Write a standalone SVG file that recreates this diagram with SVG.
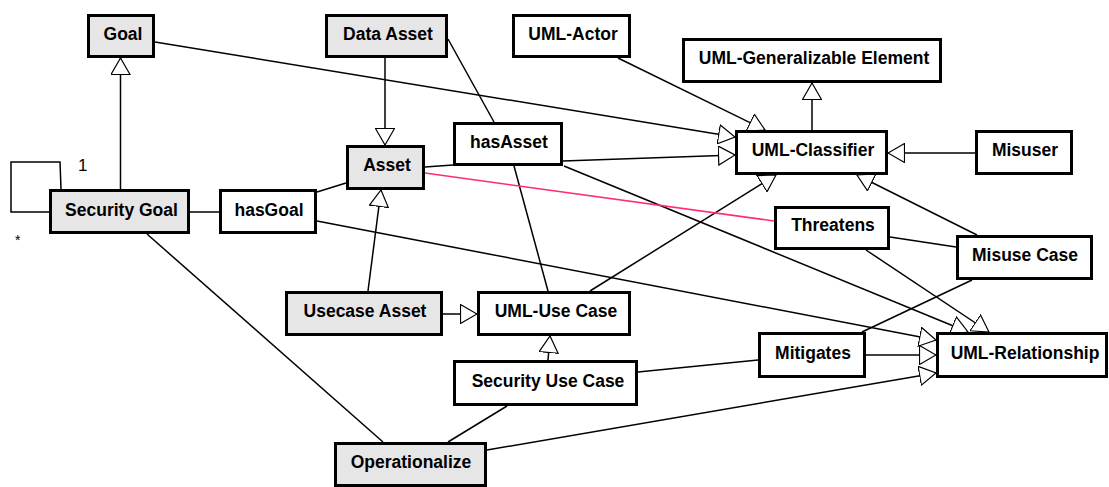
<svg xmlns="http://www.w3.org/2000/svg" width="1109" height="487" viewBox="0 0 1109 487">
<style>
.box{stroke:#000;stroke-width:3}
.g{fill:#e6e6e6}
.w{fill:#fff}
.t{font-family:"Liberation Sans",Arial,sans-serif;font-weight:bold;font-size:17.5px;text-anchor:middle;fill:#000}
.c line,.c polyline{stroke:#000;stroke-width:1.5;fill:none}
.gen{marker-end:url(#tri)}
.lbl{font-family:"Liberation Sans",Arial,sans-serif;fill:#000}
</style>
<defs>
<marker id="tri" viewBox="0 0 18 20" refX="17" refY="10" markerWidth="18" markerHeight="20" markerUnits="userSpaceOnUse" orient="auto">
<path d="M0.5,0.5 L17,10 L0.5,19.5 Z" fill="#fff" stroke="#000" stroke-width="1.2"/>
</marker>
</defs>
<rect width="1109" height="487" fill="#fff"/>
<g class="c" id="connectors">
<line class="gen" x1="120.5" y1="189" x2="120.5" y2="58"/>
<line class="gen" x1="385" y1="58" x2="385" y2="145"/>
<line class="gen" x1="368" y1="291" x2="381" y2="190"/>
<line class="gen" x1="155" y1="42" x2="735" y2="137"/>
<line class="gen" x1="618" y1="58" x2="765" y2="130"/>
<line class="gen" x1="563" y1="161" x2="735" y2="155"/>
<line class="gen" x1="812" y1="130" x2="812" y2="83"/>
<line class="gen" x1="975" y1="153" x2="888" y2="153"/>
<line class="gen" x1="590" y1="291" x2="776" y2="175"/>
<line class="gen" x1="977" y1="235" x2="857" y2="175"/>
<line class="gen" x1="443" y1="314" x2="477" y2="314"/>
<line class="gen" x1="548" y1="360" x2="550" y2="336"/>
<line class="gen" x1="564" y1="166" x2="968" y2="332"/>
<line class="gen" x1="866" y1="250" x2="989" y2="332"/>
<line class="gen" x1="317" y1="221" x2="936" y2="340"/>
<line class="gen" x1="866" y1="355" x2="936" y2="355"/>
<line class="gen" x1="487" y1="450" x2="936" y2="373"/>
<polyline points="49,212 11,212 11,162 60,162 61,189"/>
<line x1="190" y1="212" x2="219" y2="212"/>
<line x1="317" y1="192" x2="346" y2="183"/>
<line x1="425" y1="167" x2="453" y2="165"/>
<line x1="448" y1="39" x2="494" y2="122"/>
<line x1="514" y1="166" x2="548" y2="291"/>
<line x1="425" y1="173" x2="774" y2="221" style="stroke:#ff2d6a"/>
<line x1="890" y1="237" x2="956" y2="247"/>
<line x1="972" y1="280" x2="862" y2="332"/>
<line x1="638" y1="372" x2="758" y2="360"/>
<line x1="147" y1="234" x2="383" y2="442"/>
<line x1="507" y1="406" x2="448" y2="442"/>
<text class="lbl" x="78" y="171" font-size="17">1</text>
<text class="lbl" x="15" y="245" font-size="14">*</text>
</g>
<g id="goal"><rect class="box g" x="88.5" y="15.5" width="65" height="41"/><text class="t" x="123" y="40">Goal</text></g>
<g id="data-asset"><rect class="box g" x="326.5" y="15.5" width="120" height="41"/><text class="t" x="388" y="40">Data Asset</text></g>
<g id="uml-actor"><rect class="box w" x="513.5" y="15.5" width="116" height="41"/><text class="t" x="573" y="40">UML-Actor</text></g>
<g id="uml-generalizable-element"><rect class="box w" x="683.5" y="39.5" width="257" height="42"/><text class="t" x="814" y="64">UML-Generalizable Element</text></g>
<g id="asset"><rect class="box g" x="347.5" y="146.5" width="76" height="42"/><text class="t" x="387" y="171">Asset</text></g>
<g id="hasasset"><rect class="box w" x="454.5" y="123.5" width="107" height="41"/><text class="t" x="509" y="148">hasAsset</text></g>
<g id="uml-classifier"><rect class="box w" x="736.5" y="131.5" width="150" height="42"/><text class="t" x="813" y="156">UML-Classifier</text></g>
<g id="misuser"><rect class="box w" x="976.5" y="131.5" width="95" height="42"/><text class="t" x="1025" y="156">Misuser</text></g>
<g id="security-goal"><rect class="box g" x="50.5" y="190.5" width="138" height="42"/><text class="t" x="121.5" y="216">Security Goal</text></g>
<g id="hasgoal"><rect class="box w" x="220.5" y="190.5" width="95" height="42"/><text class="t" x="269" y="216">hasGoal</text></g>
<g id="threatens"><rect class="box w" x="775.5" y="207.5" width="113" height="41"/><text class="t" x="833" y="231">Threatens</text></g>
<g id="misuse-case"><rect class="box w" x="957.5" y="236.5" width="134" height="42"/><text class="t" x="1025" y="261">Misuse Case</text></g>
<g id="usecase-asset"><rect class="box g" x="286.5" y="292.5" width="155" height="42"/><text class="t" x="365" y="317">Usecase Asset</text></g>
<g id="uml-use-case"><rect class="box w" x="478.5" y="292.5" width="151" height="42"/><text class="t" x="556" y="317">UML-Use Case</text></g>
<g id="mitigates"><rect class="box w" x="759.5" y="333.5" width="105" height="43"/><text class="t" x="813" y="359">Mitigates</text></g>
<g id="uml-relationship"><rect class="box w" x="937.5" y="333.5" width="169" height="43"/><text class="t" x="1025" y="359">UML-Relationship</text></g>
<g id="security-use-case"><rect class="box w" x="454.5" y="361.5" width="182" height="43"/><text class="t" x="548" y="387">Security Use Case</text></g>
<g id="operationalize"><rect class="box g" x="335.5" y="443.5" width="150" height="42"/><text class="t" x="411" y="468">Operationalize</text></g>
</svg>
